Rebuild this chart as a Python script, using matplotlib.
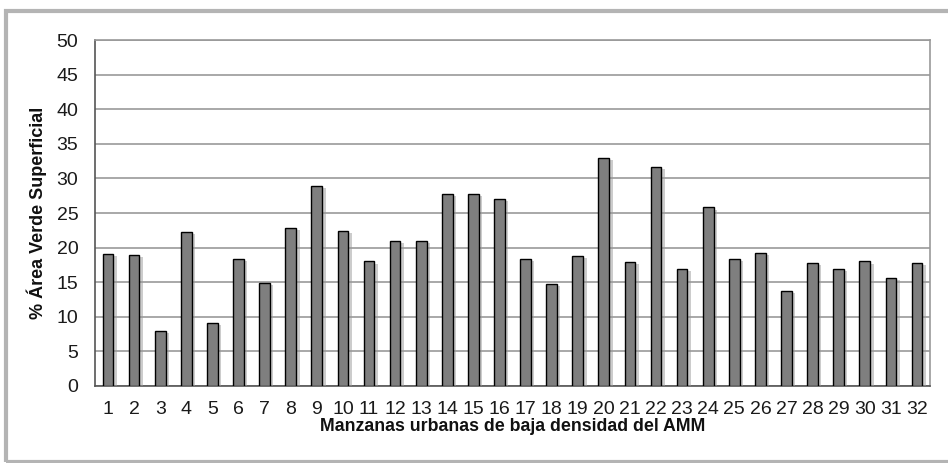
import matplotlib.pyplot as plt
import matplotlib.patheffects as pe
from matplotlib.patches import Rectangle

plt.rcParams['font.family'] = ['Liberation Sans', 'DejaVu Sans']

manzanas = [str(i) for i in range(1, 33)]
area_verde = [19.1, 18.9, 7.9, 22.2, 9.1, 18.3, 14.9, 22.9, 28.9, 22.4,
              18.0, 21.0, 21.0, 27.7, 27.7, 27.0, 18.3, 14.8, 18.8, 33.0,
              17.9, 31.6, 16.9, 25.8, 18.3, 19.2, 13.8, 17.8, 16.9, 18.0,
              15.6, 17.8]
y_ticks = list(range(0, 51, 5))

fig = plt.figure(figsize=(9.48, 4.63), dpi=100)

# outer chart frame (gray border, right side cut off)
frame = Rectangle((6 / 948, 1.5 / 463), 1.0, 451 / 463, transform=fig.transFigure,
                  fill=False, edgecolor='#b4b4b4', linewidth=3, zorder=0)
fig.patches.append(frame)

ax = fig.add_axes([95 / 948, 77 / 463, 835 / 948, 346 / 463])

x = list(range(len(manzanas)))
bars = ax.bar(x, area_verde, width=0.41, color='#7f7f7f', edgecolor='black',
              linewidth=1.0, zorder=3)
for b in bars:
    b.set_path_effects([pe.SimplePatchShadow(offset=(2.5, -1.5), shadow_rgbFace='#9a9a9a', alpha=0.5),
                        pe.Normal()])

ax.set_xlim(-0.5, len(manzanas) - 0.5)
ax.set_ylim(0, 50)
ax.set_yticks(y_ticks)
ax.set_xticks(x)
ax.set_xticklabels(manzanas)
ax.yaxis.grid(True, color='#999999', linewidth=1.2, zorder=0)
ax.set_axisbelow(True)

ax.tick_params(axis='both', length=0, labelsize=14, colors='#1a1a1a')
ax.tick_params(axis='y', pad=12)
ax.tick_params(axis='x', pad=11)

for side in ['top', 'right']:
    ax.spines[side].set_color('#999999')
    ax.spines[side].set_linewidth(1.2)
for side in ['left', 'bottom']:
    ax.spines[side].set_color('#555555')
    ax.spines[side].set_linewidth(1.2)

ax.set_ylabel('% Área Verde Superficial', fontsize=13, fontweight='bold', color='#111111')
ax.yaxis.set_label_coords(-0.0575, 0.5)
ax.set_xlabel('Manzanas urbanas de baja densidad del AMM', fontsize=12.8, fontweight='bold', color='#111111')
ax.xaxis.set_label_coords(0.5, -0.092)

fig.savefig('out.png', dpi=100)
